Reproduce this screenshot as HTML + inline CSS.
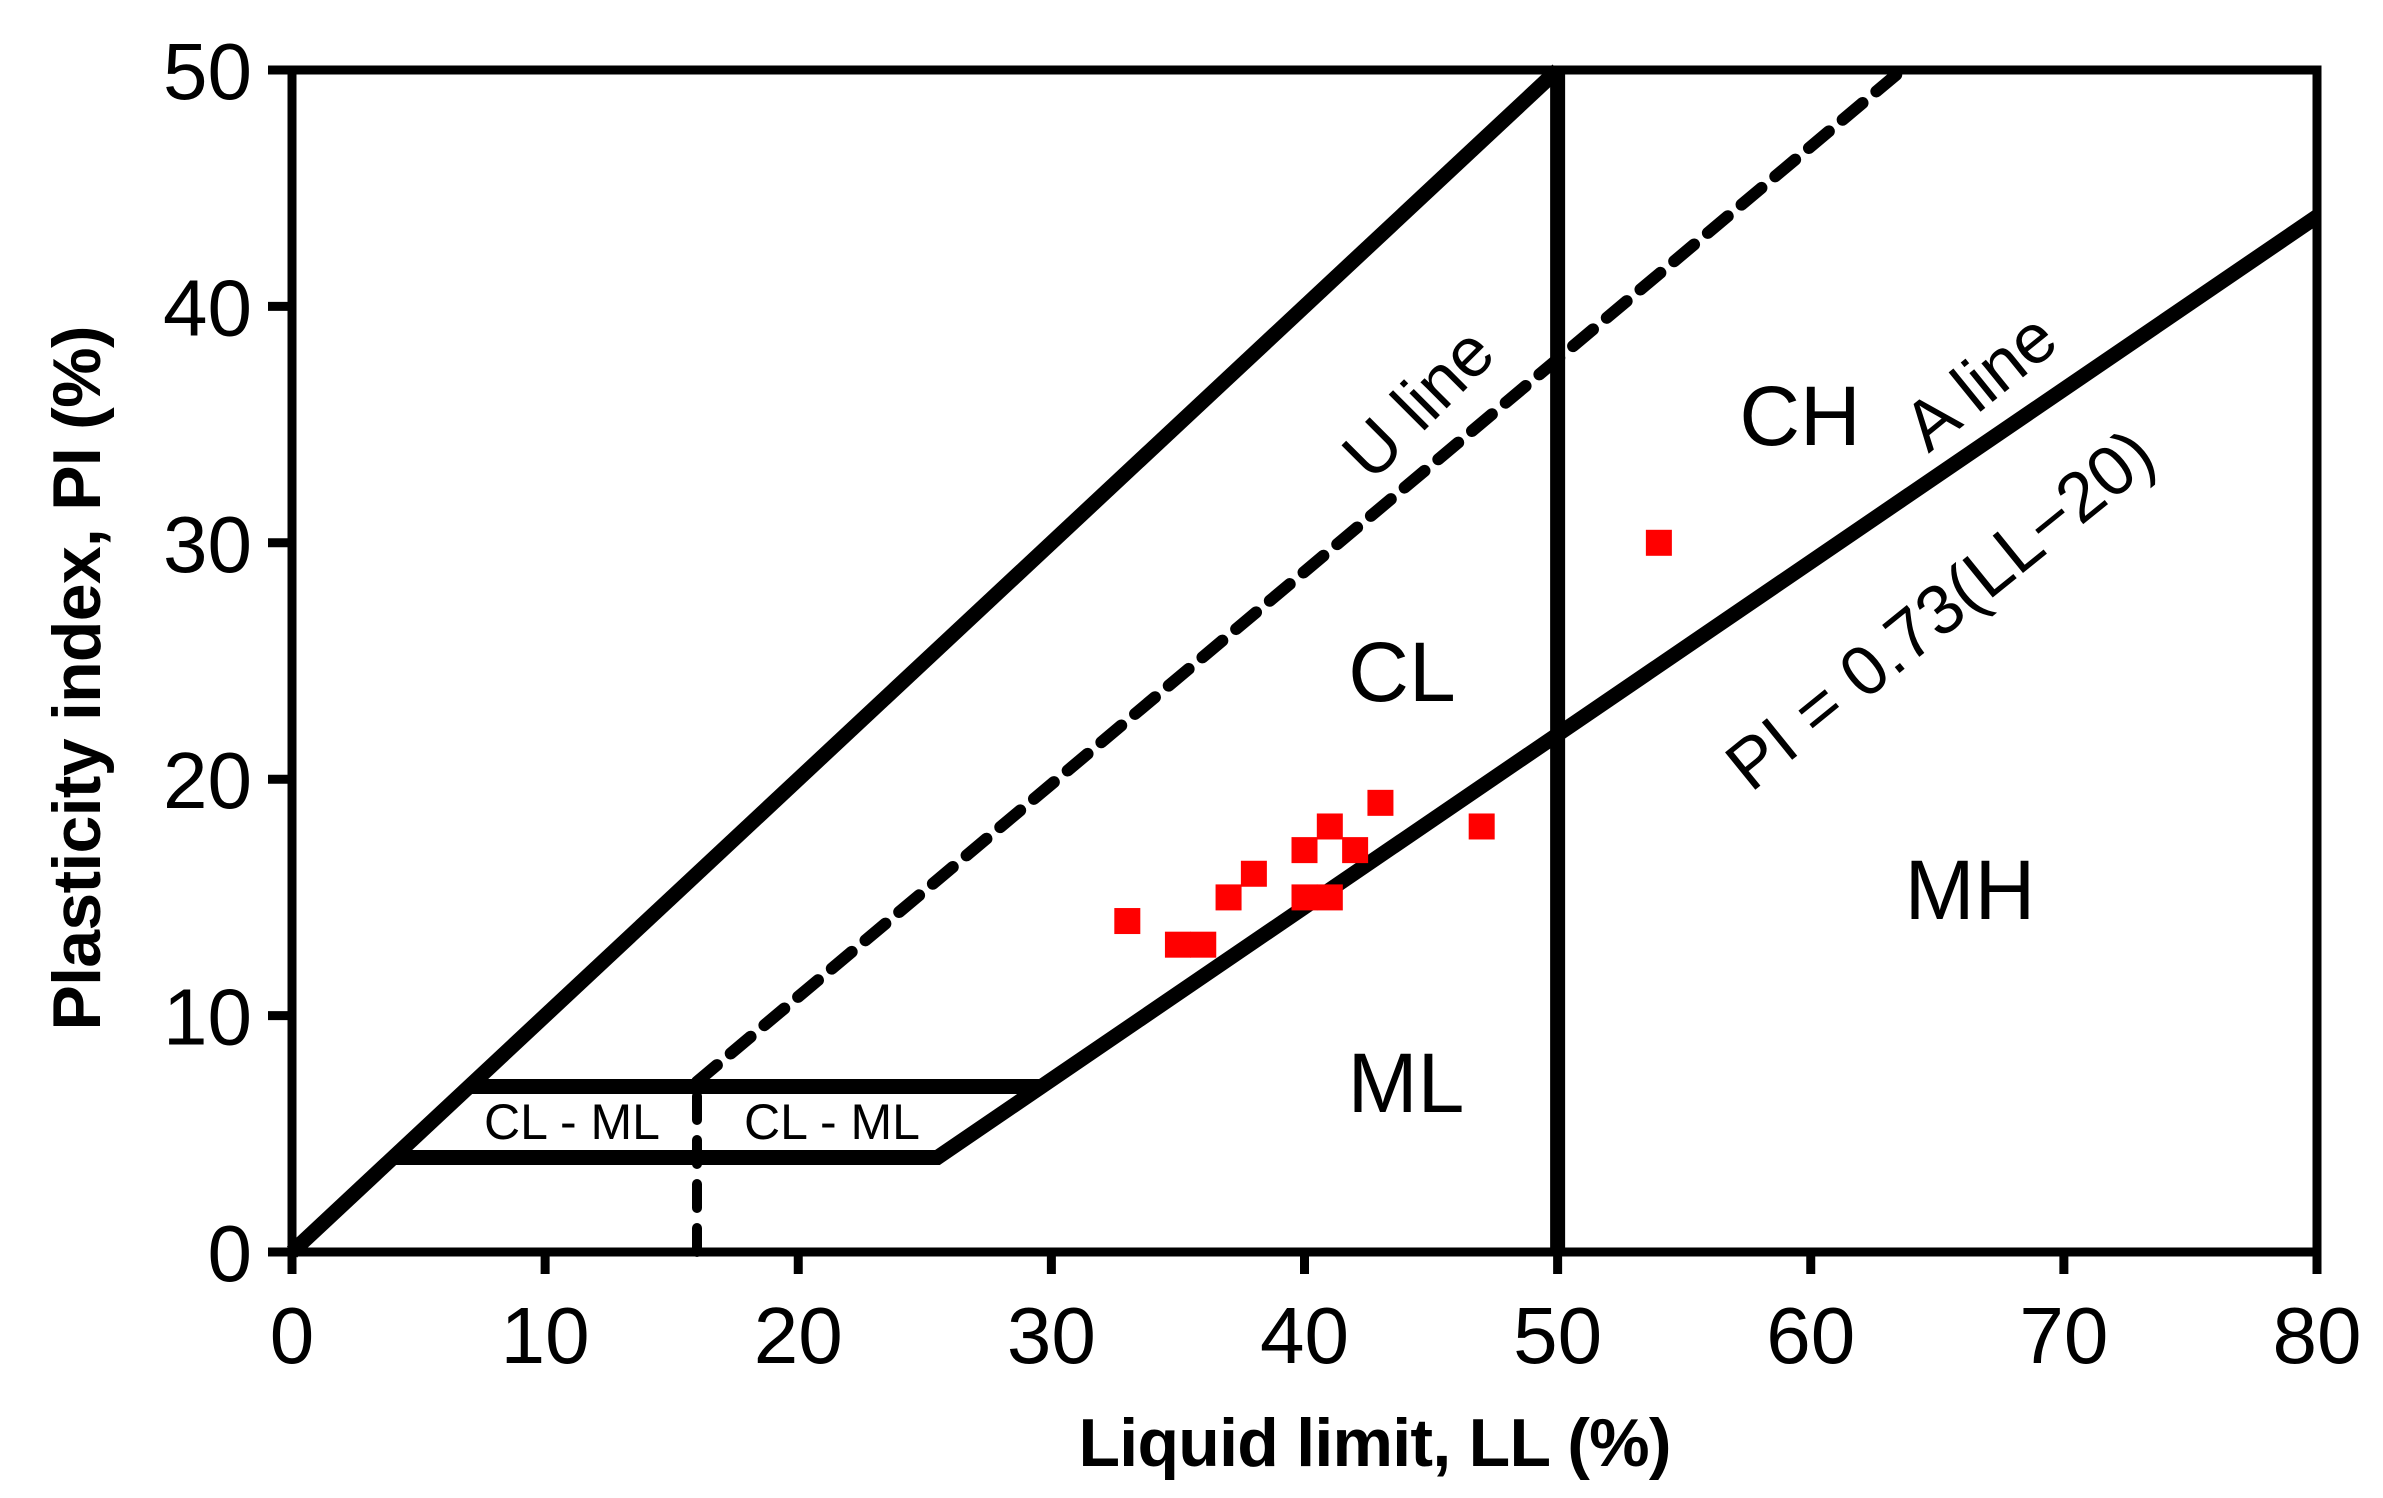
<!DOCTYPE html>
<html><head><meta charset="utf-8"><style>
html,body{margin:0;padding:0;background:#fff;}
svg{display:block;font-family:"Liberation Sans",Arial,sans-serif;}
</style></head><body>
<svg id="chart" width="2383" height="1498" viewBox="0 0 2383 1498" xmlns="http://www.w3.org/2000/svg">
<g id="lines"></g>
<g id="pts"></g>
<g id="axes"></g>
<text x="0" y="0" transform="translate(100,678) rotate(-90)" text-anchor="middle" font-weight="bold" font-size="68" textLength="705">Plasticity index, PI (%)</text>
<text x="1375" y="1466" text-anchor="middle" font-weight="bold" font-size="68" textLength="593">Liquid limit, LL (%)</text>
<text x="1800" y="445" text-anchor="middle" font-size="84">CH</text>
<text x="1402" y="701" text-anchor="middle" font-size="84">CL</text>
<text x="1970" y="919" text-anchor="middle" font-size="84">MH</text>
<text x="1406" y="1112" text-anchor="middle" font-size="84">ML</text>
<text x="572" y="1139" text-anchor="middle" font-size="50">CL - ML</text>
<text x="832" y="1139" text-anchor="middle" font-size="50">CL - ML</text>
<text x="0" y="0" transform="translate(1435,420) rotate(-45)" text-anchor="middle" font-size="70">U line</text>
<text x="0" y="0" transform="translate(1995,400) rotate(-39)" text-anchor="middle" font-size="70">A line</text>
<text x="0" y="0" transform="translate(1955,628) rotate(-39)" text-anchor="middle" font-size="70">PI = 0.73(LL−20)</text>
</svg>
<script>
const xTicks = [0,10,20,30,40,50,60,70,80];
const yTicks = [0,10,20,30,40,50];
const ptLL = [33,35,36,37,38,40,40,41,41,42,43,47,54];
const ptPI = [14,13,13,15,16,17,15,15,18,17,19,18,30];
const uLine = [[0,0],[50,50]];
const dashedU = [[16,7.2],[63.6,50]];
const aLine = [[4,4],[25.5,4],[80,43.8]];
const clmlTop = [[7,7],[29.6,7]];
const divider50 = [[50,0],[50,50]];
const divider16 = [[16,0],[16,7]];

const X0=292,X1=2317,Y0=1252,Y1=70;
function sx(v){return X0+(X1-X0)*v/80;}
function sy(v){return Y0-(Y0-Y1)*v/50;}
const NS="http://www.w3.org/2000/svg";
function mk(tag,parent,attrs){const e=document.createElementNS(NS,tag);for(const k in attrs)e.setAttribute(k,attrs[k]);parent.appendChild(e);return e;}
const L=document.getElementById('lines'),P=document.getElementById('pts'),A=document.getElementById('axes');
function poly(pts,name,w,dash){
  const e=mk('polyline',L,{points:pts.map(p=>sx(p[0])+','+sy(p[1])).join(' '),fill:'none',stroke:'#000','stroke-width':w,'stroke-linejoin':'miter'});
  if(dash){e.setAttribute('stroke-dasharray',dash);e.setAttribute('stroke-linecap','round');}
  
  
}
poly(uLine,'u-line',15);
poly(dashedU,'u-line-dashed',12,'26 18');
poly(aLine,'a-line',15);
poly(clmlTop,'cl-ml-upper-boundary',15);
poly(divider50,'ll-50-divider',15);
poly(divider16,'ll-16-divider-dashed',10,'24 20');

ptLL.forEach((v,i)=>{
  const r=mk('rect',P,{x:sx(v)-13,y:sy(ptPI[i])-13,width:26,height:26,fill:'#ff0000'});
  
  
});

const fr=mk('path',A,{d:`M${X0},${Y0} L${X0},${Y1} L${X1},${Y1} L${X1},${Y0} Z`,fill:'none',stroke:'#000','stroke-width':9});


xTicks.forEach(v=>{
  const t=mk('line',A,{x1:sx(v),x2:sx(v),y1:Y0,y2:Y0+22,stroke:'#000','stroke-width':9});
  
  
  const l=mk('text',A,{x:sx(v),y:1363,'text-anchor':'middle','font-size':80});
  l.textContent=v;
  
  
});
yTicks.forEach(v=>{
  const t=mk('line',A,{x1:X0-24,x2:X0,y1:sy(v),y2:sy(v),stroke:'#000','stroke-width':9});
  
  
  const l=mk('text',A,{x:252,y:sy(v)+29,'text-anchor':'end','font-size':80});
  l.textContent=v;
  
  
});
</script>
</body></html>
